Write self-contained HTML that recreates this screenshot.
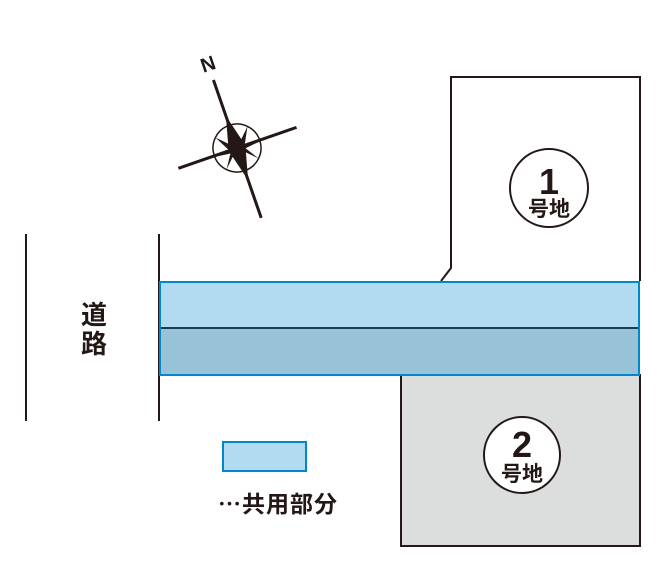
<!DOCTYPE html>
<html><head><meta charset="utf-8"><style>
html,body{margin:0;padding:0;background:#fff;}
svg{display:block;}
text{font-family:"Liberation Sans","Noto Sans CJK JP",sans-serif;fill:#231815;}
</style></head><body>
<svg width="665" height="587" viewBox="0 0 665 587" xmlns="http://www.w3.org/2000/svg">
<line x1="26" y1="234" x2="26" y2="421" stroke="#231815" stroke-width="2"/>
<line x1="159" y1="234" x2="159" y2="421" stroke="#231815" stroke-width="2"/>
<text x="94" y="324" font-size="26" text-anchor="middle" font-weight="bold">道</text>
<text x="94" y="353" font-size="26" text-anchor="middle" font-weight="bold">路</text>
<polyline points="441,281 451,268 451,77 640,77 640,281" fill="#fff" stroke="#231815" stroke-width="2"/>
<rect x="401" y="375" width="239" height="171" fill="#dcdddd" stroke="#231815" stroke-width="2"/>
<rect x="160" y="282" width="479" height="46" fill="#b3dbf0"/>
<rect x="160" y="328" width="479" height="46" fill="#98c2d8"/>
<line x1="160" y1="328" x2="639" y2="328" stroke="#1a3a50" stroke-width="2"/>
<rect x="160" y="282" width="479" height="93" fill="none" stroke="#0088cc" stroke-width="2"/>
<circle cx="549" cy="188" r="39" fill="#fff" stroke="#231815" stroke-width="2"/>
<text x="549" y="194" font-size="36" font-weight="bold" text-anchor="middle">1</text>
<text x="549" y="216" font-size="21" font-weight="bold" text-anchor="middle">号地</text>
<circle cx="522" cy="455" r="38" fill="#fff" stroke="#231815" stroke-width="2"/>
<text x="522" y="457" font-size="36" font-weight="bold" text-anchor="middle">2</text>
<text x="522" y="481" font-size="21" font-weight="bold" text-anchor="middle">号地</text>
<rect x="223" y="442" width="83" height="29" fill="#b3dbf0" stroke="#0088cc" stroke-width="2"/>
<text x="218" y="512" font-size="23" font-weight="bold" letter-spacing="1">⋯共用部分</text>
<g transform="translate(237,148) rotate(-19.1)">
<line x1="0" y1="-72" x2="0" y2="74" stroke="#231815" stroke-width="3"/>
<line x1="-62" y1="0" x2="63" y2="0" stroke="#231815" stroke-width="3"/>
<circle cx="0" cy="0" r="24" fill="none" stroke="#231815" stroke-width="1.5"/>
<polygon fill="#231815" points="0,-34 7,-7 17,-17 8,0 34,0 8,3 17,17 7,7 0,34 -7,7 -17,17 -8,3 -34,0 -8,0 -17,-17 -7,-7"/>
<text x="0" y="-82" font-size="20" font-weight="bold" text-anchor="middle">N</text>
</g>
</svg>
</body></html>
